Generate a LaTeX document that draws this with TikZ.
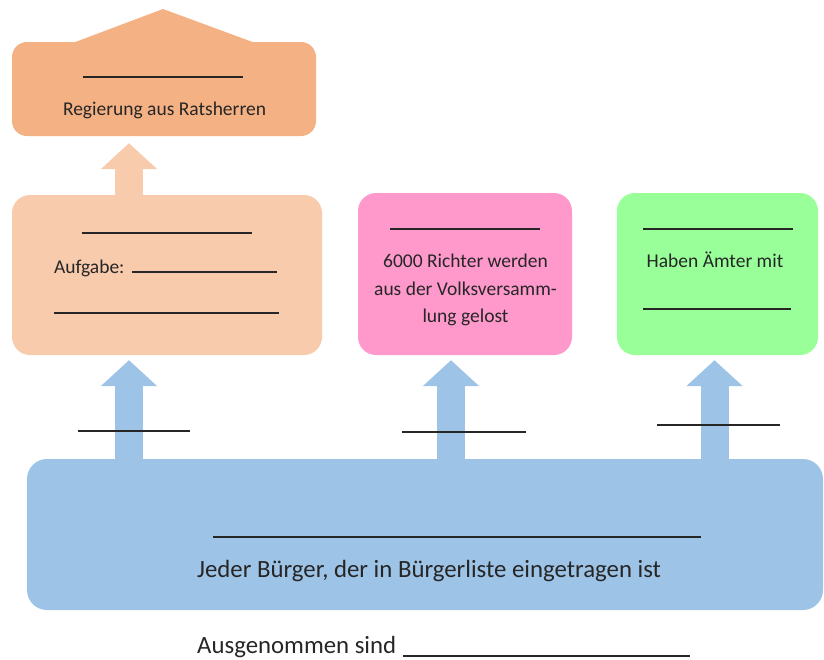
\documentclass[tikz,border=0pt]{standalone}
\usepackage{fontspec}
\setmainfont{Carlito}
\usetikzlibrary{arrows.meta}
\definecolor{orD}{HTML}{F4B183}
\definecolor{orL}{HTML}{F8CBAD}
\definecolor{pinkC}{HTML}{FF99CC}
\definecolor{greenC}{HTML}{99FF99}
\definecolor{blueC}{HTML}{9DC3E6}
\definecolor{txt}{HTML}{262626}
\tikzset{
 rbox/.style={rounded corners=18pt, inner sep=0pt, draw=none},
 blank/.style={line width=1.5pt, draw=txt},
 bigblank/.style={line width=2.8pt, draw=txt},
 barrow/.style={line width=28pt, draw=#1, -{Triangle[width=55pt,length=26pt]}},
 lbl/.style={inner sep=0pt, text=txt, font=\fontsize{19.5}{27.5}\selectfont},
 biglbl/.style={inner sep=0pt, text=txt, font=\fontsize{24.8}{30}\selectfont},
}
\begin{document}
\begin{tikzpicture}[x=1pt,y=-1pt]
\useasboundingbox (0,0) rectangle (824,659);
% boxes
\fill[orD] (70,44) -- (163,9) -- (258,44) -- cycle;
\node[rbox, rounded corners=15pt, fill=orD, minimum width=304pt, minimum height=94pt] (reg) at (164,89) {};
\node[rbox, fill=orL, minimum width=310pt, minimum height=160pt] (aufg) at (167,275) {};
\node[rbox, fill=pinkC, minimum width=214pt, minimum height=162pt] (richt) at (465,274) {};
\node[rbox, fill=greenC, minimum width=201pt, minimum height=162pt] (amt) at (717.5,274) {};
\node[rbox, rounded corners=20pt, fill=blueC, minimum width=796pt, minimum height=151pt] (buerger) at (425,534.5) {};
% arrow columns
\coordinate (c1) at (129,0);
\coordinate (c2) at (451,0);
\coordinate (c3) at (714.5,0);
% arrows
\draw[barrow=orL] ([yshift=-1pt]aufg.north -| c1) -- ([yshift=-7pt]reg.south -| c1);
\draw[barrow=blueC] ([yshift=-2pt]buerger.north -| c1) -- ([yshift=-5pt]aufg.south -| c1);
\draw[barrow=blueC] ([yshift=-2pt]buerger.north -| c2) -- ([yshift=-5pt]richt.south -| c2);
\draw[barrow=blueC] ([yshift=-2pt]buerger.north -| c3) -- ([yshift=-5pt]amt.south -| c3);
% top box
\draw[blank] (83,77) -- (243,77);
\node[lbl, anchor=base] (regt) at (164.5,115) {Regierung aus Ratsherren};
% Aufgabe box
\draw[blank] (82,233) -- (252,233);
\node[lbl, anchor=base west] (aufgt) at (54,273) {Aufgabe:};
\draw[blank] (132,272) -- (277,272);
\draw[blank] (54,313) -- (279,313);
% pink box
\draw[blank] (390,229) -- (540,229);
\node[lbl, align=center] (richtt) at (465.5,290) {6000 Richter werden\\aus der Volksversamm-\\lung gelost};
% green box
\draw[blank] (643,229) -- (793,229);
\node[lbl, anchor=base] (amtt) at (715,267) {Haben Ämter mit};
\draw[blank] (643,309) -- (791,309);
% arrow labels
\draw[blank] (78,431) -- (190,431);
\draw[blank] (402,432) -- (526,432);
\draw[blank] (657,425) -- (780,425);
% bottom box
\draw[bigblank] (213,537) -- (701,537);
\node[biglbl, anchor=base west] (buergert) at (197,577) {Jeder Bürger, der in Bürgerliste eingetragen ist};
\node[biglbl, anchor=base west] (ausg) at (197,653) {Ausgenommen sind};
\draw[blank] (403,656) -- (690,656);
\end{tikzpicture}
\end{document}
